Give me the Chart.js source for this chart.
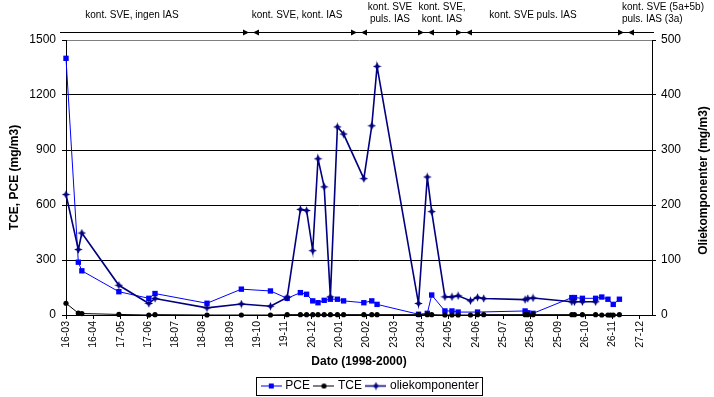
<!DOCTYPE html>
<html><head><meta charset="utf-8">
<script src="https://cdn.jsdelivr.net/npm/chart.js@4.4.1/dist/chart.umd.min.js"></script>
<style>html,body{margin:0;padding:0;background:#fff;}#wrap{width:714px;height:397px;position:relative;}</style>
</head><body><div id="wrap"><canvas id="c" width="714" height="397"></canvas></div>
<script>
// ---------------- data ----------------
const pceDates = ['1998-03-16','1998-03-30','1998-04-03','1998-05-15','1998-06-18','1998-06-25','1998-08-23','1998-10-01','1998-11-03','1998-11-22','1998-12-07','1998-12-14','1998-12-21','1998-12-27','1999-01-03','1999-01-10','1999-01-18','1999-01-25','1999-02-17','1999-02-26','1999-03-04','1999-04-20','1999-04-30','1999-05-05','1999-05-20','1999-05-28','1999-06-04','1999-06-26','1999-08-19','1999-08-22','1999-08-28','1999-10-11','1999-10-14','1999-10-23','1999-11-07','1999-11-14','1999-11-21','1999-11-27','1999-12-04'];
const pceValues = [1400,288,241,127,91,117,64,141,131,91,122,113,77,67,80,86,86,77,67,77,58,4,9,109,22,22,16,16,22,12,9,95,95,91,91,98,86,58,86];

const tceDates = ['1998-03-16','1998-03-30','1998-04-03','1998-05-15','1998-06-18','1998-06-25','1998-08-23','1998-10-01','1998-11-03','1998-11-22','1998-12-07','1998-12-14','1998-12-21','1998-12-27','1999-01-03','1999-01-10','1999-01-18','1999-01-25','1999-02-17','1999-02-26','1999-03-04','1999-04-20','1999-04-30','1999-05-05','1999-05-20','1999-05-28','1999-06-04','1999-06-18','1999-06-26','1999-07-03','1999-08-19','1999-08-22','1999-08-28','1999-10-11','1999-10-14','1999-10-23','1999-11-07','1999-11-14','1999-11-21','1999-11-24','1999-11-27','1999-12-04'];
const tceValues = [64,10,8,3,0,2,0,0,0,2,2,2,2,2,2,2,2,2,2,2,2,2,2,2,0,0,0,0,2,2,2,2,2,2,2,2,2,0,0,0,0,2];

const olieDates = ['1998-03-16','1998-03-30','1998-04-03','1998-05-15','1998-06-18','1998-06-25','1998-08-23','1998-10-01','1998-11-03','1998-11-22','1998-12-07','1998-12-14','1998-12-21','1998-12-27','1999-01-03','1999-01-10','1999-01-18','1999-01-25','1999-02-17','1999-02-26','1999-03-04','1999-04-20','1999-04-30','1999-05-05','1999-05-20','1999-05-28','1999-06-04','1999-06-18','1999-06-26','1999-07-03','1999-08-19','1999-08-22','1999-08-28','1999-10-11','1999-10-14','1999-10-23','1999-11-07'];
const olieValues = [219,119,149,54,21,30,13,20,16,32,192,190,117,284,233,33,342,329,248,344,452,21,251,188,33,33,35,26,32,30,28,30,31,24,24,24,24];

const seriesNames = ['PCE','TCE','oliekomponenter'];
const axisStart = '1998-03-16';
const axisEnd = '1999-12-27';
const tickStepDays = 31;
const leftTicks = [0,300,600,900,1200,1500];
const rightTicks = [0,100,200,300,400,500];
const phaseBoundaries = ['1998-10-12','1999-02-11','1999-04-29','1999-06-11','1999-12-11'];
const phaseLabels = [['kont. SVE, ingen IAS'],['kont. SVE, kont. IAS'],['kont. SVE','puls. IAS'],['kont. SVE,','kont. IAS'],['kont. SVE puls. IAS'],['kont. SVE (5a+5b)','puls. IAS (3a)']];
const rightAxisTitle = 'Oliekomponenter (mg/m3)';

// ---------------- helpers ----------------
const FONT = '"Liberation Sans", Arial, Helvetica, sans-serif';
Chart.defaults.font.family = FONT;
Chart.defaults.font.size = 12;
Chart.defaults.color = '#000';

const DAY = 86400000;
const parse = s => { const [y,m,d] = s.split('-').map(Number); return Date.UTC(y, m-1, d); };
const START = parse(axisStart);
const toDay = s => (parse(s) - START) / DAY;
const fmtTick = v => { const dt = new Date(START + v*DAY); return String(dt.getUTCDate()).padStart(2,'0') + '-' + String(dt.getUTCMonth()+1).padStart(2,'0'); };
const pts = (dates, vals) => dates.map((d,i) => ({x: toDay(d), y: vals[i]}));

function starMarker(color){
  const c = document.createElement('canvas'); c.width = 9; c.height = 9;
  const g = c.getContext('2d');
  g.fillStyle = color;
  const cx = 4.5, cy = 4.5, ro = 4.3, ri = 1.9;
  g.beginPath();
  for (let k = 0; k < 8; k++) {
    const a = -Math.PI/2 + k*Math.PI/4, r = (k % 2 === 0) ? ro : ri;
    const px = cx + r*Math.cos(a), py = cy + r*Math.sin(a);
    if (k === 0) g.moveTo(px, py); else g.lineTo(px, py);
  }
  g.closePath(); g.fill();
  return c;
}
const olieMarker = starMarker('#000080');

function legendIcon(color, lw, marker){
  const c = document.createElement('canvas'); c.width = 21; c.height = 9;
  const g = c.getContext('2d');
  g.strokeStyle = color; g.lineWidth = lw;
  g.beginPath(); g.moveTo(0,4.5); g.lineTo(21,4.5); g.stroke();
  g.fillStyle = color;
  if (marker === 'rect') g.fillRect(8,2,5,5);
  else if (marker === 'circle') { g.beginPath(); g.arc(10.5,4.5,2.6,0,Math.PI*2); g.fill(); }
  else g.drawImage(olieMarker, 6, 0);
  return c;
}
const legendIcons = [legendIcon('#0000FF',1,'rect'), legendIcon('#000000',1,'circle'), legendIcon('#000080',1.5,'star')];

const phasePlugin = {
  id: 'phases',
  afterLayout(chart){
    const lg = chart.legend;
    lg.left += 28;
    lg.top += 5; lg.bottom += 5;
  },
  afterDraw(chart){
    const ctx = chart.ctx, xs = chart.scales.x, area = chart.chartArea;
    ctx.save();
    // phase line
    ctx.strokeStyle = '#000'; ctx.lineWidth = 1;
    ctx.beginPath(); ctx.moveTo(60, 32.5); ctx.lineTo(654, 32.5); ctx.stroke();
    ctx.fillStyle = '#000';
    phaseBoundaries.forEach(d => {
      const px = Math.round(xs.getPixelForValue(toDay(d)));
      ctx.beginPath(); ctx.moveTo(px-2, 32.5); ctx.lineTo(px-8, 29.5); ctx.lineTo(px-8, 35.5); ctx.closePath(); ctx.fill();
      ctx.beginPath(); ctx.moveTo(px+2, 32.5); ctx.lineTo(px+8, 29.5); ctx.lineTo(px+8, 35.5); ctx.closePath(); ctx.fill();
    });
    ctx.font = '10px ' + FONT;
    ctx.textBaseline = 'alphabetic';
    const anchors = [{x:132,a:'center'},{x:297,a:'center'},{x:390,a:'center'},{x:442,a:'center'},{x:533,a:'center'},{x:622,a:'left'}];
    phaseLabels.forEach((lines,i) => {
      ctx.textAlign = anchors[i].a;
      if (lines.length === 1) ctx.fillText(lines[0], anchors[i].x, 18);
      else { ctx.fillText(lines[0], anchors[i].x, 10); ctx.fillText(lines[1], anchors[i].x, 22); }
    });
    // right axis title, reading bottom-to-top
    ctx.font = 'bold 12px ' + FONT;
    ctx.textAlign = 'center'; ctx.textBaseline = 'middle';
    ctx.translate(704, (area.top + area.bottom) / 2 + 3);
    ctx.rotate(-Math.PI/2);
    ctx.fillText(rightAxisTitle, 0, 0);
    ctx.setTransform(1,0,0,1,0,0);
    // legend frame
    const hb = chart.legend.legendHitBoxes;
    if (hb && hb.length){
      const l = Math.min(...hb.map(h=>h.left)), r = Math.max(...hb.map(h=>h.left+h.width));
      const t = Math.min(...hb.map(h=>h.top)), b = Math.max(...hb.map(h=>h.top+h.height));
      ctx.strokeStyle = '#000'; ctx.lineWidth = 1;
      ctx.strokeRect(Math.round(l-7)+0.5, Math.round(t-3.5)+0.5, Math.round(r-l+11), Math.round(b-t+6));
    }
    ctx.restore();
  }
};

new Chart(document.getElementById('c'), {
  type: 'line',
  data: {
    datasets: [
      {label: seriesNames[0], data: pts(pceDates, pceValues), yAxisID: 'y', order: 3, clip: false,
       borderColor: '#0000FF', backgroundColor: '#0000FF', borderWidth: 1, tension: 0,
       pointStyle: 'rect', pointRadius: 3.8, pointBorderWidth: 0, pointBackgroundColor: '#0000FF'},
      {label: seriesNames[1], data: pts(tceDates, tceValues), yAxisID: 'y', order: 2, clip: false,
       borderColor: '#000000', backgroundColor: '#000000', borderWidth: 1, tension: 0,
       pointStyle: 'circle', pointRadius: 2.6, pointBorderWidth: 0, pointBackgroundColor: '#000000'},
      {label: seriesNames[2], data: pts(olieDates, olieValues), yAxisID: 'y1', order: 1, clip: false,
       borderColor: '#000080', backgroundColor: '#000080', borderWidth: 1.6, tension: 0,
       pointStyle: olieMarker, pointRadius: 4, pointBorderWidth: 0}
    ]
  },
  options: {
    responsive: false, animation: false, devicePixelRatio: 1, events: [],
    layout: {padding: {top: 40, left: 0, right: 0, bottom: 0}},
    plugins: {
      tooltip: {enabled: false},
      legend: {
        position: 'bottom',
        labels: {
          usePointStyle: true, pointStyleWidth: 16, padding: 6, color: '#000',
          font: {size: 12},
          generateLabels: chart => chart.data.datasets.map((ds,i) => ({
            text: ds.label, pointStyle: legendIcons[i], fillStyle: ds.borderColor, strokeStyle: ds.borderColor,
            lineWidth: 0, hidden: false, datasetIndex: i, fontColor: '#000'
          }))
        }
      }
    },
    scales: {
      x: {
        type: 'linear', min: 0, max: toDay(axisEnd) + 14,
        afterFit: s => { s.height = 54; },
        border: {color: '#000', width: 1},
        grid: {drawOnChartArea: false, drawTicks: true, tickLength: 4, tickColor: '#000', color: '#000'},
        ticks: {stepSize: tickStepDays, includeBounds: false, autoSkip: false, minRotation: 90, maxRotation: 90,
                padding: 2, font: {size: 10.5}, callback: v => fmtTick(v)},
        title: {display: true, text: 'Dato (1998-2000)', font: {size: 12, weight: 'bold'}, padding: {top: 0, bottom: 0}}
      },
      y: {
        position: 'left', min: leftTicks[0], max: leftTicks[leftTicks.length-1],
        afterFit: s => { s.width = 66; },
        afterBuildTicks: s => { s.ticks = leftTicks.map(v => ({value: v})); },
        border: {color: '#000', width: 1},
        grid: {color: c => (c.tick && c.tick.value === 1500) ? '#808080' : '#000', lineWidth: 1, tickLength: 4, tickColor: '#000'},
        ticks: {padding: 6, font: {size: 12}, callback: v => String(v)},
        title: {display: true, text: 'TCE, PCE (mg/m3)', font: {size: 12, weight: 'bold'}, padding: {top: 7, bottom: 0}}
      },
      y1: {
        position: 'right', min: rightTicks[0], max: rightTicks[rightTicks.length-1],
        afterFit: s => { s.width = 62; },
        afterBuildTicks: s => { s.ticks = rightTicks.map(v => ({value: v})); },
        border: {color: '#000', width: 1},
        grid: {drawOnChartArea: false, tickLength: 4, tickColor: '#000'},
        ticks: {padding: 5, font: {size: 12}, callback: v => String(v)},
        title: {display: false}
      }
    }
  },
  plugins: [phasePlugin]
});
</script></body></html>
